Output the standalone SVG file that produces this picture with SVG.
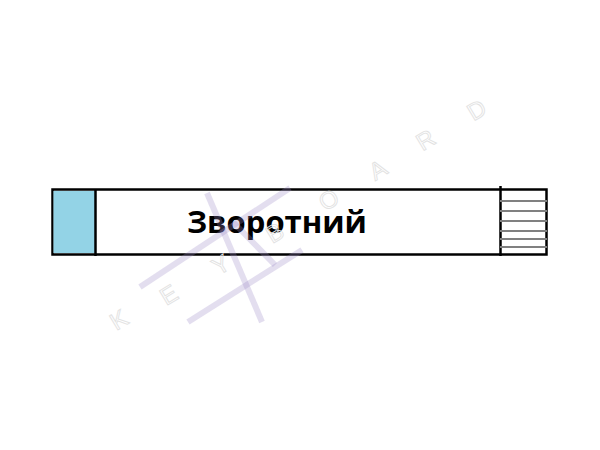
<svg xmlns="http://www.w3.org/2000/svg" width="600" height="450" viewBox="0 0 600 450">
<style>
.wm{font-family:"Liberation Sans",Arial,sans-serif;font-size:24px;fill:none;stroke:#e2e2e2;stroke-width:0.9}
.logo{stroke:#9a88c4;stroke-opacity:0.28;stroke-width:6;stroke-linecap:butt;fill:none}
.frame{fill:#ffffff;stroke:#000000;stroke-width:2.5}
.stripe{stroke:#808080;stroke-width:2.2}
.label{font-family:"Open Sans","Noto Sans",sans-serif;font-weight:bold;font-size:31px;fill:#000000}
</style>
<rect width="600" height="450" fill="#ffffff"/>
<g id="bar">
  <rect class="frame" x="52.5" y="189.5" width="494" height="65"/>
  <rect x="53.5" y="191" width="42" height="62" fill="#93D3E6"/>
  <line x1="95.5" y1="189" x2="95.5" y2="256" stroke="#000" stroke-width="2.5"/>
  <line x1="500.5" y1="186" x2="500.5" y2="256" stroke="#000" stroke-width="2.5"/>
  <g id="stripes">
    <line class="stripe" x1="500" y1="201" x2="547" y2="201"/>
    <line class="stripe" x1="500" y1="211" x2="547" y2="211"/>
    <line class="stripe" x1="500" y1="221" x2="547" y2="221"/>
    <line class="stripe" x1="500" y1="231" x2="547" y2="231"/>
    <line class="stripe" x1="500" y1="239" x2="547" y2="239"/>
    <line class="stripe" x1="500" y1="247" x2="547" y2="247"/>
  </g>
  <text class="label" x="277" y="233" text-anchor="middle">Зворотний</text>
</g>
<g id="watermark">
  <g class="logo">
    <line x1="140" y1="287" x2="290" y2="188"/>
    <line x1="188" y1="322" x2="302" y2="250"/>
    <line x1="207" y1="193" x2="262" y2="322"/>
    <line x1="233" y1="222" x2="275" y2="265"/>
  </g>
  <text class="wm" transform="translate(123,327) rotate(-31)" text-anchor="middle">K</text>
  <text class="wm" transform="translate(173,302) rotate(-31)" text-anchor="middle">E</text>
  <text class="wm" transform="translate(225,272) rotate(-31)" text-anchor="middle">Y</text>
  <text class="wm" transform="translate(279,240) rotate(-31)" text-anchor="middle">B</text>
  <text class="wm" transform="translate(333,207) rotate(-31)" text-anchor="middle">O</text>
  <text class="wm" transform="translate(382,177) rotate(-31)" text-anchor="middle">A</text>
  <text class="wm" transform="translate(430,147) rotate(-31)" text-anchor="middle">R</text>
  <text class="wm" transform="translate(481,117) rotate(-31)" text-anchor="middle">D</text>
</g>
</svg>
